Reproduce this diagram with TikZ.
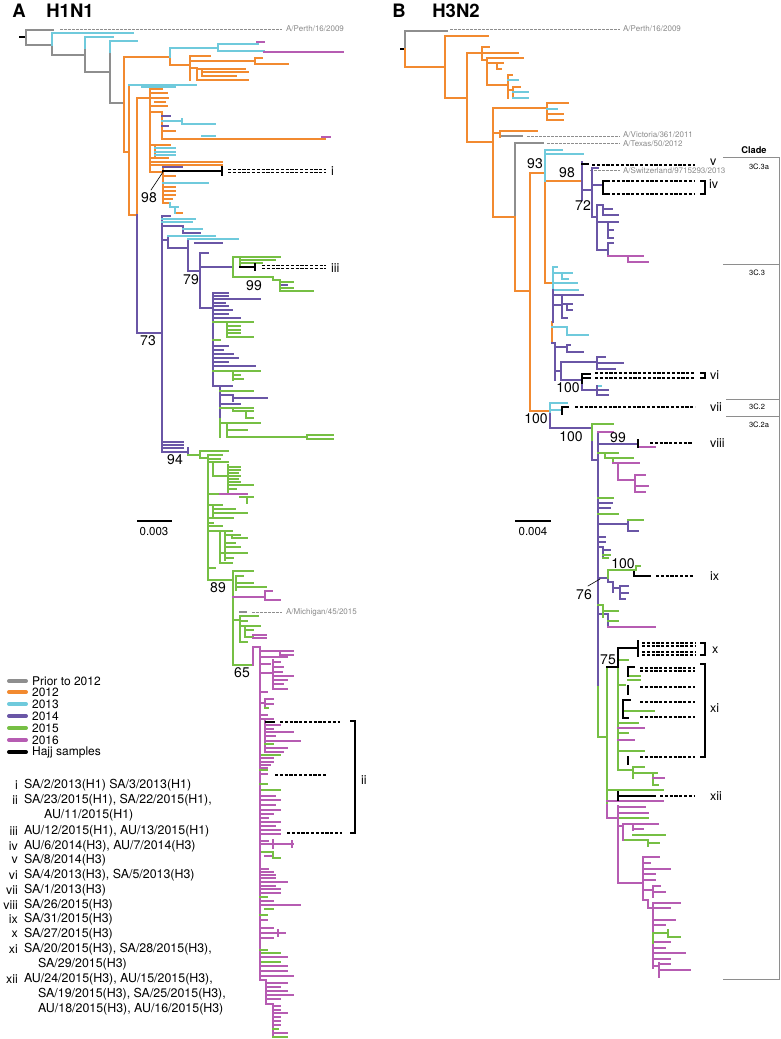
\documentclass[tikz,border=0pt]{standalone}
\usepackage{fontspec}
\setmainfont{TeX Gyre Heros}
\definecolor{colgr}{HTML}{8E8E8E}
\definecolor{col12}{HTML}{F28A30}
\definecolor{col13}{HTML}{6FCADC}
\definecolor{col14}{HTML}{6A56A6}
\definecolor{col15}{HTML}{76BF44}
\definecolor{col16}{HTML}{B65CB2}
\definecolor{coltxt}{HTML}{8A8A8A}
\tikzset{
  cgr/.style={draw=colgr}, c12/.style={draw=col12}, c13/.style={draw=col13},
  c14/.style={draw=col14}, c15/.style={draw=col15}, c16/.style={draw=col16},
  chj/.style={draw=black},
  dshk/.style={draw=black, line width=1.3pt, dash pattern=on 3.2pt off 1.6pt, line cap=butt},
  gdsh/.style={draw=colgr, line width=1pt, dash pattern=on 2.5pt off 1.5pt, line cap=butt},
  brk/.style={draw=black, line width=1.3pt, line cap=butt},
  bsv/.style={font=\fontsize{14}{14}\selectfont, inner sep=0pt},
  rom/.style={font=\fontsize{12.5}{12.5}\selectfont, anchor=west, inner sep=0pt},
  strain/.style={font=\fontsize{8}{8}\selectfont, text=coltxt, anchor=west, inner sep=0pt},
  note/.style={font=\fontsize{12.4}{12}\selectfont, anchor=west, inner sep=0pt},
  noteno/.style={font=\fontsize{12.4}{12}\selectfont, anchor=east, inner sep=0pt},
  legtxt/.style={font=\fontsize{12}{12}\selectfont, anchor=west, inner sep=0pt},
  swatch/.style={line width=4pt, line cap=round},
  clbox/.style={draw=colgr, line width=0.8pt, line cap=butt},
  clade/.style={font=\fontsize{7.5}{8}\selectfont, inner sep=0pt},
  ttl/.style={font=\fontsize{18.5}{19}\selectfont\bfseries, inner sep=0pt},
}
\begin{document}
\begin{tikzpicture}[x=1pt, y=-1pt, line width=2.3pt, line cap=rect]
\useasboundingbox (0,0) rectangle (780,1039);

% ---------- A: H1N1 ----------
\node[ttl] (ttlA) at (19,11) {A};
\node[ttl] (ttlAsub) at (70,11) {H1N1};

\draw[chj] (20,37)--(24,37);
\draw[cgr] (26,30)--(26,45) (26,30)--(53,30) (26,45)--(52,45) (52,45)--(52,55) (52,55)--(85,55)
  (85,48)--(85,72) (85,72)--(110,72) (110,52)--(110,103) (110,103)--(124,103);
\draw[gdsh] (60,29)--(282,29);
\node[strain] (perthA) at (285,29) {A/Perth/16/2009};
\draw[c13] (52,33)--(52,45) (52,33)--(133,33) (85,37)--(85,48) (85,37)--(113,37) (110,41)--(110,52) (110,41)--(137,41);

\draw[c12] (124,57)--(124,152)--(129,152) (124,57)--(170,57) (170,57)--(170,65)--(190,65) (190,56)--(190,80)
  (190,56)--(210,56) (190,61)--(255,61) (255,58)--(255,64) (255,58)--(262,58) (255,64)--(288,64)
  (190,68)--(197,68) (197,68)--(197,80) (197,69)--(245,69) (202,69)--(202,76) (202,72)--(248,72)
  (202,76)--(236,76) (197,80)--(248,80);
\draw[c13] (170,48)--(170,57) (170,48)--(218,48) (218,44)--(218,51) (218,44)--(258,44) (218,51)--(264,51);
\draw[c16] (257,42)--(264,42) (264,52)--(343,52);

\draw[c12] (129,85)--(129,215) (137,98)--(137,215) (129,215)--(137,215) (137,98)--(150,98) (150,89)--(150,172)
  (150,89)--(162,89) (150,93)--(167,93) (150,98)--(168,98) (155,102)--(165,102) (150,106)--(167,106)
  (150,112)--(162,112) (162,112)--(162,139) (162,131)--(175,131) (162,139)--(325,139) (150,145)--(170,145)
  (155,145)--(155,158) (150,158)--(168,158) (150,162)--(222,162) (150,165)--(222,165) (150,172)--(163,172)
  (163,167)--(163,203) (163,176)--(175,176) (163,187)--(175,187) (163,191)--(175,191) (163,195)--(175,195)
  (163,199)--(172,199) (163,203)--(170,203) (175,213)--(182,213);
\draw[c13] (129,85)--(196,85) (142,87)--(175,87) (162,121)--(182,121) (182,119)--(182,124) (182,124)--(215,124)
  (202,136)--(215,136) (155,148)--(175,148) (155,152)--(175,152) (155,155)--(175,155) (163,183)--(208,183)
  (170,203)--(170,207) (170,207)--(178,207) (175,207)--(175,213);
\draw[c14] (162,116)--(170,116) (162,126)--(168,126) (163,167)--(182,167);
\draw[c16] (322,137)--(330,137);
\draw[chj] (163,171)--(222,171) (222,167.5)--(222,174.5);
\draw[dshk] (228,169.5)--(326,169.5) (228,172.5)--(326,172.5);
\node[rom] (romi) at (330,171) {i};
\draw[line width=0.6pt] (151,190)--(163,172);
\node[bsv] (bsA98) at (149,198) {98};

\draw[c14] (137,215)--(137,333)--(162,333) (162,216)--(162,452) (162,216)--(170,216) (162,226)--(183,226)
  (183,226)--(183,233) (183,233)--(200,233) (162,240)--(168,240) (168,236)--(168,248) (195,243)--(222,243)
  (168,248)--(188,248) (188,239)--(188,271) (188,271)--(200,271) (200,253)--(200,308) (200,253)--(208,253)
  (200,267)--(233,267) (200,308)--(213,308) (213,293)--(213,386)
  (213,293)--(228,293) (213,296)--(228,296) (213,299)--(260,299) (213,303)--(225,303) (213,306)--(228,306)
  (213,310)--(232,310) (213,314)--(228,314) (213,318)--(240,318) (213,346)--(228,346) (213,350)--(223,350)
  (213,354)--(233,354) (213,358)--(238,358) (213,362)--(228,362) (213,366)--(255,366) (213,386)--(220,386)
  (220,386)--(220,419) (220,386)--(232,386) (220,395)--(233,395) (233,395)--(233,401) (233,398)--(267,398)
  (220,404)--(240,404) (280,285)--(287,285)
  (162,452)--(188,452) (162,442)--(183,442) (162,445)--(183,445) (162,448)--(183,448) (188,448)--(188,455);
\draw[c13] (162,219)--(195,219) (162,222)--(192,222) (183,229)--(202,229) (168,236)--(215,236) (188,239)--(238,239);
\draw[c15] (233,257)--(233,277) (233,257)--(280,257) (240,257)--(240,267) (240,260)--(275,260) (240,263)--(262,263)
  (233,277)--(273,277) (273,277)--(273,280) (273,280)--(280,280) (280,280)--(280,291) (280,282)--(293,282)
  (280,288)--(293,288) (280,291)--(313,291)
  (213,322)--(227,322) (227,322)--(227,337) (227,322)--(253,322) (227,326)--(240,326) (227,330)--(240,330)
  (227,333)--(240,333) (227,337)--(253,337) (213,340)--(220,340) (213,371)--(260,371) (233,371)--(233,380)
  (233,375)--(240,375) (233,379)--(243,379) (220,391)--(253,391) (220,408)--(253,408) (233,408)--(233,411)
  (233,411)--(253,411) (246,411)--(246,418) (246,418)--(253,418) (220,419)--(220,437) (220,423)--(260,423)
  (227,423)--(227,437) (227,430)--(247,430) (227,437)--(307,437) (307,435)--(333,435) (307,439)--(333,439);
\draw[chj] (240,267)--(255,267) (255,264)--(255,270);
\draw[dshk] (262,265.5)--(326,265.5) (262,268.5)--(326,268.5);
\node[rom] (romiii) at (330,268) {iii};
\node[bsv] (bsA79) at (191,280) {79};
\node[bsv] (bsA99) at (254,286) {99};
\node[bsv] (bsA73) at (148,341) {73};
\node[bsv] (bsA94) at (175,460) {94};

\draw[c15] (188,455)--(200,455) (200,451)--(200,458) (200,451)--(228,451) (200,458)--(208,458) (208,455)--(208,580)
  (208,455)--(222,455) (208,459)--(220,459) (208,462)--(213,462) (213,462)--(213,476) (213,462)--(228,462)
  (228,465)--(228,493) (228,467)--(240,467) (228,470)--(240,470) (228,473)--(238,473) (228,476)--(240,476)
  (228,479)--(238,479) (228,482)--(240,482) (228,485)--(253,485) (228,489)--(236,489) (213,476)--(228,476)
  (208,494)--(220,494) (240,497)--(253,497) (247,497)--(247,503)
  (208,505)--(222,505) (213,505)--(213,517) (213,509)--(235,509) (213,513)--(247,513) (208,518)--(233,518)
  (208,523)--(213,523) (210,526)--(222,526) (208,531)--(220,531) (220,531)--(220,563) (220,531)--(232,531)
  (225,533)--(225,560) (225,535)--(240,535) (232,535)--(232,538) (232,538)--(247,538) (225,543)--(235,543)
  (225,547)--(240,547) (220,553)--(247,553) (225,558)--(233,558) (220,563)--(232,563) (208,568)--(215,568)
  (208,580)--(233,580) (233,572)--(233,665) (233,571)--(253,571) (236,576)--(243,576) (236,576)--(236,590)
  (236,583)--(253,583) (236,587)--(266,587) (233,620)--(240,620) (240,616)--(240,642) (240,616)--(258,616)
  (240,621)--(247,621) (240,626)--(260,626) (245,626)--(245,637) (245,630)--(253,630) (245,637)--(253,637)
  (240,642)--(247,642) (233,665)--(253,665);
\draw[c16] (220,494)--(247,494) (233,597)--(265,597) (265,591)--(265,600) (265,591)--(272,591) (265,600)--(280,600)
  (253,635)--(266,635) (253,638)--(266,638);
\draw[cgr] (240,612)--(246,612);
\draw[gdsh] (252,612)--(282,612);
\node[strain] (michA) at (285,612) {A/Michigan/45/2015};
\node[bsv] (bsA89) at (218,588) {89};
\node[bsv] (bsA65) at (242,673) {65};

\draw[c16] (253,647)--(253,665) (253,647)--(260,647) (260,647)--(260,980)
  (260,651)--(280,651) (280,651)--(280,655) (280,651)--(293,651) (280,655)--(293,655) (260,657)--(287,657)
  (260,664)--(270,664) (260,673)--(273,673) (273,660)--(273,689) (273,662)--(280,662) (273,667)--(283,667)
  (273,672)--(282,672) (273,676)--(293,676) (273,680)--(287,680) (273,684)--(283,684) (273,689)--(287,689)
  (260,692)--(267,692) (260,703)--(265,703) (265,699)--(265,708) (265,699)--(273,699) (265,704)--(273,704)
  (260,715)--(267,715) (262,719)--(273,719) (265,719)--(265,752) (265,725)--(280,725) (265,729)--(273,729)
  (265,732)--(293,732) (265,736)--(275,736) (265,741)--(300,741) (265,748)--(287,748) (265,752)--(283,752)
  (262,758)--(273,758) (262,762)--(273,762) (260,765)--(270,765) (260,768)--(267,768) (260,774)--(267,774)
  (262,796)--(275,796) (262,800)--(280,800) (262,805)--(275,805) (262,810)--(280,810) (262,814)--(273,814)
  (260,818)--(268,818) (260,822)--(280,822) (260,826)--(275,826) (260,830)--(280,830) (260,834)--(280,834)
  (260,841)--(268,841) (262,844)--(273,844) (273,840)--(273,848) (273,844)--(293,844) (292,841)--(292,847)
  (265,856)--(273,856) (260,869)--(268,869) (262,872)--(273,872) (262,875)--(275,875) (262,878)--(275,878)
  (260,882)--(287,882) (262,886)--(275,886) (260,889)--(280,889) (260,893)--(280,893) (260,901)--(273,901)
  (260,905)--(300,905) (260,920)--(267,920) (260,928)--(273,928) (260,933)--(285,933) (278,930)--(278,936)
  (260,938)--(273,938) (260,957)--(287,957) (260,966)--(287,966) (260,971)--(287,971) (262,976)--(293,976)
  (260,980)--(266,980) (266,980)--(266,1004) (266,983)--(287,983) (266,987)--(280,987) (266,991)--(287,991)
  (266,995)--(293,995) (266,999)--(280,999) (266,1004)--(273,1004) (273,1004)--(273,1037) (273,1006)--(280,1006)
  (273,1010)--(280,1010) (273,1013)--(287,1013) (273,1017)--(280,1017) (273,1021)--(280,1021)
  (273,1025)--(280,1025) (273,1033)--(287,1033);
\draw[c15] (265,708)--(268,708) (265,744)--(273,744) (262,755)--(280,755) (260,770)--(267,770) (260,784)--(267,784)
  (262,790)--(280,790) (262,852)--(273,852) (273,852)--(273,858) (273,858)--(280,858) (260,897)--(267,897)
  (265,909)--(273,909) (260,915)--(267,915) (260,950)--(267,950) (262,953)--(280,953) (262,962)--(280,962)
  (273,1029)--(278,1029) (273,1037)--(287,1037);
\draw[chj] (266,722)--(274,722);
\draw[dshk] (280,722)--(340,722) (275,775)--(327,775) (287,833)--(342,833);
\draw[brk] (350,721)--(355,721)--(355,833)--(350,833);
\node[rom] (romii) at (360,780) {ii};

\draw[line width=1.6pt, line cap=butt] (137,521)--(172,521);
\node[font=\fontsize{11.5}{12}\selectfont, inner sep=0pt] (scaleA) at (154,532) {0.003};

% legend
\draw[swatch, colgr] (9,681)--(26,681);
\draw[swatch, col12] (9,692)--(26,692);
\draw[swatch, col13] (9,704)--(26,704);
\draw[swatch, col14] (9,716)--(26,716);
\draw[swatch, col15] (9,728)--(26,728);
\draw[swatch, col16] (9,740)--(26,740);
\draw[swatch, black] (9,752)--(26,752);
\node[legtxt] (legprior) at (31,681) {Prior to 2012};
\node[legtxt] (leg12) at (31,692) {2012};
\node[legtxt] (leg13) at (31,704) {2013};
\node[legtxt] (leg14) at (31,716) {2014};
\node[legtxt] (leg15) at (31,728) {2015};
\node[legtxt] (leg16) at (31,740) {2016};
\node[legtxt] (leghj) at (31,752) {Hajj samples};

% sample list
\node[noteno] (no1) at (19,785) {i};      \node[note] (nt1) at (23,785) {SA/2/2013(H1) SA/3/2013(H1)};
\node[noteno] (no2) at (19,800) {ii};     \node[note] (nt2) at (23,800) {SA/23/2015(H1), SA/22/2015(H1),};
\node[note] (nt2b) at (43,815) {AU/11/2015(H1)};
\node[noteno] (no3) at (19,831) {iii};    \node[note] (nt3) at (23,831) {AU/12/2015(H1), AU/13/2015(H1)};
\node[noteno] (no4) at (19,846) {iv};     \node[note] (nt4) at (23,846) {AU/6/2014(H3), AU/7/2014(H3)};
\node[noteno] (no5) at (19,860) {v};      \node[note] (nt5) at (23,860) {SA/8/2014(H3)};
\node[noteno] (no6) at (19,875) {vi};     \node[note] (nt6) at (23,875) {SA/4/2013(H3), SA/5/2013(H3)};
\node[noteno] (no7) at (19,890) {vii};    \node[note] (nt7) at (23,890) {SA/1/2013(H3)};
\node[noteno] (no8) at (19,905) {viii};   \node[note] (nt8) at (23,905) {SA/26/2015(H3)};
\node[noteno] (no9) at (19,919) {ix};     \node[note] (nt9) at (23,919) {SA/31/2015(H3)};
\node[noteno] (no10) at (19,934) {x};     \node[note] (nt10) at (23,934) {SA/27/2015(H3)};
\node[noteno] (no11) at (19,949) {xi};    \node[note] (nt11) at (23,949) {SA/20/2015(H3), SA/28/2015(H3),};
\node[note] (nt11b) at (37,964) {SA/29/2015(H3)};
\node[noteno] (no12) at (19,979) {xii};   \node[note] (nt12) at (23,979) {AU/24/2015(H3), AU/15/2015(H3),};
\node[note] (nt12b) at (37,994) {SA/19/2015(H3), SA/25/2015(H3),};
\node[note] (nt12c) at (37,1009) {AU/18/2015(H3), AU/16/2015(H3)};

% ---------- B: H3N2 ----------
\node[ttl] (ttlB) at (399,11) {B};
\node[ttl] (ttlBsub) at (456,11) {H3N2};

\draw[chj] (401,49)--(405,49);
\draw[cgr] (405,31)--(405,49) (405,31)--(447,31) (500,136)--(522,136) (515,143)--(515,217) (515,143)--(543,143);
\draw[gdsh] (450,29)--(620,29) (527,136)--(620,136) (547,143)--(620,143) (590,170)--(620,170);
\node[strain] (perthB) at (622,29) {A/Perth/16/2009};
\node[strain] (victB) at (622,135) {A/Victoria/361/2011};
\node[strain] (texB) at (622,144) {A/Texas/50/2012};
\node[strain] (switzB) at (622,171) {A/Switzerland/9715293/2013};

\draw[c12] (405,49)--(405,67)--(445,67) (445,36)--(445,98) (445,36)--(488,36) (445,98)--(467,98) (467,53)--(467,142)
  (467,53)--(482,53) (482,47)--(482,60) (482,47)--(489,47) (482,53)--(518,53) (482,60)--(487,60)
  (487,58)--(487,85) (487,58)--(523,58) (487,63)--(503,63) (497,63)--(497,69) (497,69)--(501,69)
  (487,85)--(508,85) (508,75)--(508,98) (508,75)--(512,75) (508,90)--(513,90) (513,87)--(513,98)
  (513,87)--(520,87) (467,142)--(493,142) (493,108)--(493,217) (493,108)--(547,108) (547,103)--(547,120)
  (547,103)--(568,103) (547,114)--(563,114) (547,120)--(563,120) (493,133)--(500,133) (500,131)--(500,137)
  (500,131)--(537,131) (493,217)--(515,217) (515,217)--(515,291) (515,291)--(530,291) (530,173)--(530,411)
  (530,173)--(545,173) (545,181)--(545,283) (545,181)--(582,181) (545,283)--(553,283) (552,322)--(552,343)
  (530,411)--(550,411);
\draw[c13] (508,80)--(518,80) (513,92)--(528,92) (513,98)--(528,98) (547,109)--(557,109) (545,150)--(545,181)
  (545,150)--(562,150) (545,154)--(583,154)
  (553,267)--(553,290) (553,267)--(557,267) (553,273)--(572,273) (562,273)--(562,279) (562,279)--(568,279)
  (553,283)--(577,283) (553,290)--(578,290) (552,327)--(567,327) (567,327)--(567,335) (567,335)--(588,335)
  (597,386)--(601,386) (550,403)--(550,414) (550,403)--(567,403) (550,410)--(562,410);
\node[bsv] (bsB93) at (535,164) {93};
\node[bsv] (bsB98) at (567,173) {98};

\draw[c14] (582,162)--(582,200) (582,190)--(592,190) (592,168)--(592,217) (592,168)--(598,168) (592,185)--(603,185)
  (592,217)--(597,217) (597,205)--(597,250) (597,205)--(603,205) (603,205)--(603,215) (603,215)--(618,215)
  (603,209)--(612,209) (597,222)--(618,222) (608,222)--(608,238) (608,230)--(613,230) (608,238)--(613,238)
  (597,250)--(608,250) (608,243)--(608,256) (608,243)--(613,243);
\draw[c16] (608,256)--(643,256) (628,256)--(628,262) (628,262)--(648,262);
\draw[chj] (582,164)--(588,164) (603,181)--(603,194) (603,181)--(609,181) (603,194)--(609,194);
\draw[dshk] (592,165)--(695,165) (612,181)--(695,181) (612,194)--(695,194);
\draw[brk] (700,181)--(705,181)--(705,194)--(700,194);
\node[rom] (romv) at (709,162) {v};
\node[rom] (romiv) at (708,184) {iv};
\node[bsv] (bsB72) at (583,206) {72};

\draw[c14] (553,290)--(553,322) (553,295)--(583,295) (553,305)--(562,305) (562,297)--(562,318) (562,304)--(572,304)
  (567,304)--(567,310) (567,310)--(572,310) (562,318)--(567,318)
  (552,343)--(555,343) (555,343)--(555,380) (555,347)--(567,347) (567,345)--(567,352) (567,345)--(570,345)
  (567,352)--(583,352) (555,371)--(561,371) (561,362)--(561,380) (561,362)--(597,362) (597,357)--(597,369)
  (597,357)--(605,357) (597,363)--(623,363) (597,369)--(615,369) (561,380)--(582,380)
  (582,383)--(582,390)--(597,390) (597,386)--(597,395) (597,390)--(608,390) (597,395)--(608,395);
\draw[chj] (582,374)--(582,383) (582,374)--(590,374) (582,378)--(590,378);
\draw[dshk] (595,373)--(695,373) (595,378)--(695,378);
\draw[brk] (700,373)--(705,373)--(705,378)--(700,378);
\node[rom] (romvi) at (709,375) {vi};
\node[bsv] (bsB100a) at (568,388) {100};

\draw[chj] (562,407)--(562,414) (562,407)--(568,407);
\draw[dshk] (575,407)--(695,407);
\node[rom] (romvii) at (709,407) {vii};
\node[bsv] (bsB100b) at (536,419) {100};
\node[bsv] (bsB100c) at (571,437) {100};

\draw[c14] (550,414)--(550,428)--(592,428) (592,440)--(592,460)--(598,460) (598,433)--(598,687) (598,444)--(638,444)
  (598,503)--(612,503) (598,508)--(610,508) (598,524)--(628,524) (628,520)--(628,531) (628,531)--(638,531)
  (598,537)--(605,537) (598,542)--(605,542) (598,547)--(603,547) (603,547)--(603,558) (603,550)--(610,550)
  (598,578)--(608,578) (608,578)--(608,582) (608,582)--(613,582) (613,582)--(613,592) (613,588)--(620,588)
  (620,586)--(620,599) (620,586)--(628,586) (620,593)--(628,593) (620,599)--(625,599)
  (598,614)--(608,614) (608,614)--(608,627);
\draw[c15] (592,424)--(592,440) (592,424)--(613,424) (598,453)--(618,453) (605,453)--(605,458) (605,458)--(633,458)
  (613,458)--(613,463) (598,498)--(613,498) (598,514)--(618,514) (628,520)--(643,520) (603,555)--(610,555)
  (603,558)--(608,558) (608,570)--(608,578) (608,570)--(636,570) (636,566)--(636,570) (636,566)--(640,566)
  (598,605)--(603,605) (603,605)--(603,617) (603,611)--(618,611) (608,621)--(618,621);
\draw[c16] (598,432)--(613,432) (638,447)--(655,447) (613,463)--(639,463) (618,463)--(618,480) (618,480)--(635,480)
  (635,475)--(635,492) (635,475)--(645,475) (635,486)--(648,486) (635,492)--(645,492) (608,627)--(655,627);
\draw[chj] (638,440)--(638,447) (634,572)--(634,576)--(650,576);
\draw[dshk] (650,443)--(693,443) (656,576)--(694,576);
\node[rom] (romviii) at (709,443) {viii};
\node[rom] (romix) at (709,576) {ix};
\node[bsv] (bsB99) at (618,438) {99};
\node[bsv] (bsB100d) at (623,564) {100};
\draw[line width=0.6pt] (588,586)--(600,579);
\node[bsv] (bsB76) at (584,595) {76};

\draw[c15] (598,687)--(598,737)--(607,737) (607,667)--(607,805) (607,667)--(618,667) (618,660)--(618,770)
  (618,660)--(628,660) (628,676)--(640,676) (628,680)--(640,680) (618,685)--(625,685) (623,711)--(654,711)
  (618,723)--(638,723) (618,733)--(628,733) (618,751)--(644,751) (618,770)--(633,770) (633,767)--(633,778)
  (633,767)--(644,767) (633,773)--(657,773) (653,773)--(653,785) (653,785)--(658,785)
  (607,790)--(663,790) (618,818)--(648,818) (633,835)--(665,835) (623,840)--(648,840) (648,840)--(648,846)
  (648,843)--(659,843);
\draw[c16] (618,728)--(644,728) (618,740)--(634,740) (653,778)--(664,778) (607,801)--(663,801)
  (607,805)--(607,818)--(618,818) (618,806)--(618,883) (618,807)--(645,807) (618,813)--(648,813)
  (618,826)--(623,826) (623,824)--(623,840) (623,824)--(658,824) (633,824)--(633,830) (633,829)--(643,829)
  (618,883)--(643,883) (643,857)--(643,900) (643,857)--(659,857) (643,863)--(650,863) (643,869)--(670,869)
  (643,874)--(655,874) (643,880)--(655,880) (643,890)--(653,890) (653,886)--(653,897) (653,886)--(660,886)
  (653,892)--(665,892) (643,900)--(648,900) (648,900)--(648,908) (648,908)--(653,908) (653,903)--(653,968)
  (653,903)--(680,903) (653,908)--(670,908) (653,920)--(675,920) (653,925)--(665,925) (653,942)--(670,942)
  (653,948)--(665,948) (653,953)--(685,953) (653,959)--(670,959) (653,966)--(659,966) (659,963)--(659,977)
  (659,964)--(670,964) (659,970)--(690,970);
\draw[c15] (653,933)--(668,933) (668,930)--(668,937) (668,937)--(680,937) (653,935)--(653,943);
\draw[chj] (607,667)--(618,667) (618,667)--(618,648)--(638,648) (638,641)--(638,656) (628,667)--(628,676)
  (628,667)--(634,667) (628,686)--(628,694) (623,700)--(623,718) (623,700)--(630,700) (623,718)--(628,718)
  (628,757)--(628,764) (618,792)--(618,800) (618,796)--(655,796);
\draw[dshk] (642,643)--(695,643) (642,646)--(695,646) (642,652)--(695,652) (642,655)--(695,655)
  (640,668)--(695,668) (640,671)--(695,671) (640,687)--(695,687) (640,702)--(695,702) (640,717)--(695,717)
  (640,757)--(695,757) (660,796)--(695,796);
\draw[brk] (700,643)--(705,643)--(705,655)--(700,655);
\draw[brk] (700,664)--(705,664)--(705,757)--(700,757);
\node[rom] (romx) at (711,650) {x};
\node[rom] (romxi) at (709,708) {xi};
\node[rom] (romxii) at (709,796) {xii};
\node[bsv] (bsB75) at (608,660) {75};

\draw[line width=1.6pt, line cap=butt] (515,521)--(551,521);
\node[font=\fontsize{11.5}{12}\selectfont, inner sep=0pt] (scaleB) at (533,532) {0.004};

% clade bar
\draw[clbox] (723,157)--(779,157)--(779,979)--(723,979) (723,264)--(779,264) (726,399)--(779,399) (726,416)--(779,416);
\node[font=\fontsize{9.3}{10}\selectfont\bfseries, inner sep=0pt] (cladehd) at (754,150) {Clade};
\node[clade] (cl3a) at (759,167) {3C.3a};
\node[clade] (cl3) at (757,273) {3C.3};
\node[clade] (cl2) at (757,407) {3C.2};
\node[clade] (cl2a) at (759,425) {3C.2a};
\end{tikzpicture}
\end{document}
